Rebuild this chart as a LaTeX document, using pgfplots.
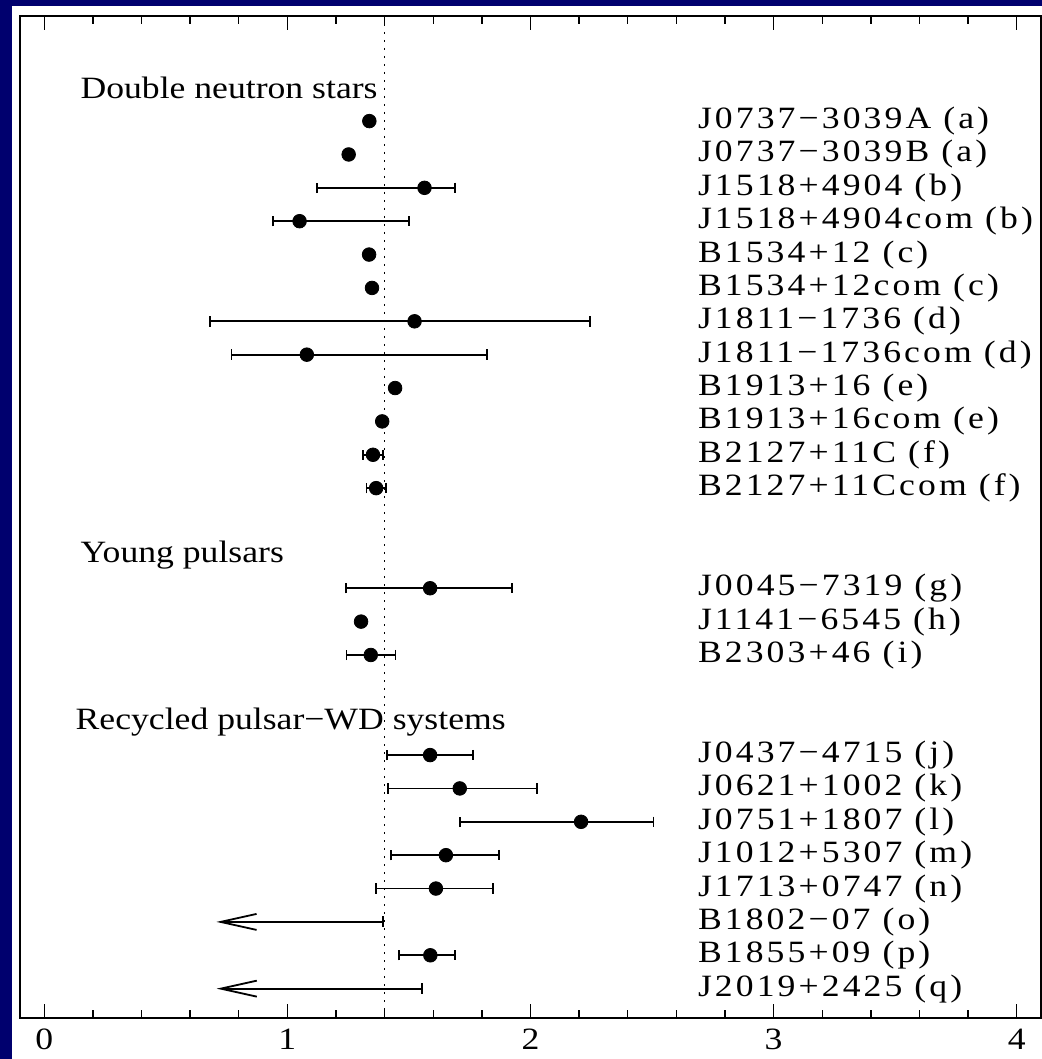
\documentclass[border=0pt]{standalone}
\usepackage{fontspec}
\setmainfont{Liberation Serif}[FakeStretch=1.15]
\newfontfamily\lblfont{Liberation Serif}[FakeStretch=1.15,LetterSpace=10]
\usepackage{pgfplots}
\pgfplotsset{compat=1.18}
\usepackage{pgfplotstable}
\usetikzlibrary{arrows.meta}
\definecolor{navybg}{RGB}{0,0,110}

% measured masses with asymmetric errors (row index y)
\pgfplotstableread{
x     y  ep    em
1.564 3  0.125 0.443
1.050 4  0.450 0.110
1.523 7  0.722 0.843
1.080 8  0.740 0.310
1.352 11 0.040 0.040
1.365 12 0.040 0.040
1.587 15 0.337 0.347
1.343 17 0.102 0.100
1.587 20 0.178 0.177
1.709 21 0.317 0.294
2.208 22 0.298 0.498
1.652 23 0.217 0.225
1.611 24 0.236 0.245
1.588 26 0.102 0.129
}\errdata

% precisely measured masses (no visible error bar)
\pgfplotstableread{
x     y
1.337 1
1.252 2
1.336 5
1.348 6
1.443 9
1.390 10
1.303 16
}\plaindata

\begin{document}
\begin{tikzpicture}[font=\fontsize{15.5}{18}\selectfont]
\useasboundingbox (-10pt,-20.5pt) rectangle (511pt,509pt);
\fill[navybg] (-10pt,-20.5pt) rectangle (511pt,509pt);
\fill[white] (-4pt,-20.5pt) rectangle (511pt,506pt);
\begin{axis}[
  at={(0,0)}, anchor=south west,
  scale only axis, width=510.5pt, height=501pt,
  xmin=-0.1, xmax=4.1, ymin=-2.15, ymax=27.88, y dir=reverse,
  xtick={0,1,2,3,4}, minor x tick num=4, ytick=\empty,
  major tick length=7pt, minor tick length=4pt,
  axis line style={line width=0.7pt},
  every tick/.style={black, line width=0.7pt},
  ticklabel style={font=\fontsize{15.5}{18}\selectfont},
  xticklabel style={yshift=-2pt},
  /pgf/number format/assume math mode=true,
  clip=false,
]
\addplot[black, line width=0.8pt, dash pattern=on 1pt off 3pt] coordinates {(1.4,-2.15) (1.4,27.88)};

\addplot[black, only marks, mark=*, mark size=3.4pt,
  error bars/.cd, x dir=both, x explicit, error mark=|,
  error bar style={line width=0.9pt},
  error mark options={mark size=2.6pt, line width=0.9pt}]
  table[x=x, y=y, x error plus=ep, x error minus=em] {\errdata};

\addplot[black, only marks, mark=*, mark size=3.4pt] table[x=x, y=y] {\plaindata};

% upper limits
\addplot[black, line width=0.9pt, {Bar[width=5.5pt]}-{Straight Barb[length=18pt,width=8pt]}] coordinates {(1.398,25) (0.708,25)};
\addplot[black, line width=0.9pt, {Bar[width=5.5pt]}-{Straight Barb[length=18pt,width=8pt]}] coordinates {(1.557,27) (0.709,27)};

% group headers
\node[anchor=west] at (axis cs:0.12,0) {Double neutron stars};
\node[anchor=west] at (axis cs:0.12,14) {Young pulsars};
\node[anchor=west] at (axis cs:0.10,19) {Recycled pulsar−WD systems};

% pulsar names
\begin{scope}[every node/.style={anchor=west, font=\lblfont\fontsize{15.5}{18}\selectfont}]
\node at (axis cs:2.66,1) {J0737−3039A (a)};
\node at (axis cs:2.66,2) {J0737−3039B (a)};
\node at (axis cs:2.66,3) {J1518+4904 (b)};
\node at (axis cs:2.66,4) {J1518+4904com (b)};
\node at (axis cs:2.66,5) {B1534+12 (c)};
\node at (axis cs:2.66,6) {B1534+12com (c)};
\node at (axis cs:2.66,7) {J1811−1736 (d)};
\node at (axis cs:2.66,8) {J1811−1736com (d)};
\node at (axis cs:2.66,9) {B1913+16 (e)};
\node at (axis cs:2.66,10) {B1913+16com (e)};
\node at (axis cs:2.66,11) {B2127+11C (f)};
\node at (axis cs:2.66,12) {B2127+11Ccom (f)};
\node at (axis cs:2.66,15) {J0045−7319 (g)};
\node at (axis cs:2.66,16) {J1141−6545 (h)};
\node at (axis cs:2.66,17) {B2303+46 (i)};
\node at (axis cs:2.66,20) {J0437−4715 (j)};
\node at (axis cs:2.66,21) {J0621+1002 (k)};
\node at (axis cs:2.66,22) {J0751+1807 (l)};
\node at (axis cs:2.66,23) {J1012+5307 (m)};
\node at (axis cs:2.66,24) {J1713+0747 (n)};
\node at (axis cs:2.66,25) {B1802−07 (o)};
\node at (axis cs:2.66,26) {B1855+09 (p)};
\node at (axis cs:2.66,27) {J2019+2425 (q)};
\end{scope}
\end{axis}
\end{tikzpicture}
\end{document}
